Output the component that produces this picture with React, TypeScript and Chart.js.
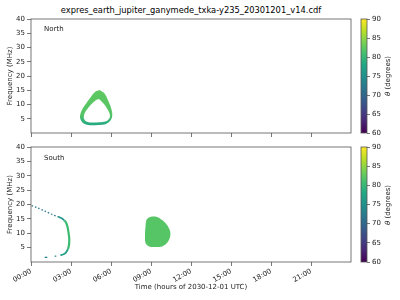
import React, { useEffect, useRef } from 'react';
import { Chart, registerables } from 'chart.js';
Chart.register(...registerables);

const FONT = "'DejaVu Sans', sans-serif";

// ---- axis ticks ----
const hourTicks = [0, 3, 6, 9, 12, 15, 18, 21];
const hourLabels = ['00:00', '03:00', '06:00', '09:00', '12:00', '15:00', '18:00', '21:00'];
const freqTicks = [5, 10, 15, 20, 25, 30, 35, 40];
const thetaTicks = [60, 65, 70, 75, 80, 85, 90];
const viridisStops = ['#440154', '#482475', '#414487', '#355f8d', '#2a788e', '#21918c', '#22a884', '#44bf70', '#7ad151', '#bddf26', '#fde725'];

// ---- North hemisphere: (hour, MHz) ----
const northRingOuter = [
  { x: 5.15, y: 15.1 }, { x: 5.48, y: 14.0 }, { x: 5.7, y: 12.3 }, { x: 5.93, y: 9.8 },
  { x: 6.08, y: 7.4 }, { x: 6.08, y: 5.6 }, { x: 5.93, y: 4.2 }, { x: 5.63, y: 3.2 },
  { x: 5.03, y: 2.8 }, { x: 4.28, y: 2.8 }, { x: 3.9, y: 3.5 }, { x: 3.68, y: 5.3 },
  { x: 3.75, y: 7.4 }, { x: 4.05, y: 9.8 }, { x: 4.43, y: 12.3 }, { x: 4.8, y: 14.4 },
  { x: 5.15, y: 15.1 },
];
const northRingInner = [
  { x: 5.1, y: 11.9 }, { x: 5.42, y: 10.4 }, { x: 5.68, y: 8.8 }, { x: 5.88, y: 7.0 },
  { x: 5.92, y: 5.6 }, { x: 5.76, y: 4.5 }, { x: 5.36, y: 3.85 }, { x: 4.55, y: 3.7 },
  { x: 4.12, y: 4.15 }, { x: 3.96, y: 5.3 }, { x: 4.03, y: 7.0 }, { x: 4.28, y: 8.8 },
  { x: 4.6, y: 10.4 }, { x: 4.86, y: 11.5 }, { x: 5.1, y: 11.9 },
];
const northThetaTop = 82.5;
const northThetaBottom = 78;

// ---- South hemisphere ----
const southBlob = [
  { x: 8.78, y: 15.3 }, { x: 9.08, y: 15.8 }, { x: 9.45, y: 15.65 }, { x: 9.83, y: 14.6 },
  { x: 10.2, y: 12.9 }, { x: 10.43, y: 10.8 }, { x: 10.43, y: 8.7 }, { x: 10.2, y: 6.6 },
  { x: 9.83, y: 5.4 }, { x: 9.3, y: 5.2 }, { x: 8.85, y: 5.4 }, { x: 8.59, y: 6.6 },
  { x: 8.55, y: 9.4 }, { x: 8.59, y: 12.5 }, { x: 8.66, y: 14.6 }, { x: 8.78, y: 15.3 },
];
const southBlobTheta = 82;
const southDotted = [
  { x: 0.05, y: 19.6 }, { x: 0.5, y: 18.8 }, { x: 1.05, y: 17.7 }, { x: 1.6, y: 16.5 }, { x: 2.0, y: 15.8 },
];
const southDottedTheta = 72;
const southUpper = [
  { x: 2.0, y: 15.8 }, { x: 2.3, y: 15.2 }, { x: 2.5, y: 14.5 },
];
const southUpperTheta = 75.5;
const southArc = [
  { x: 2.5, y: 14.5 }, { x: 2.65, y: 13.5 }, { x: 2.75, y: 12.0 }, { x: 2.82, y: 10.0 },
  { x: 2.87, y: 8.0 }, { x: 2.85, y: 6.0 }, { x: 2.78, y: 4.5 },
];
const southArcTheta = 80.5;
const southLower = [
  { x: 2.78, y: 4.5 }, { x: 2.6, y: 3.2 }, { x: 2.4, y: 2.6 }, { x: 2.2, y: 2.35 },
];
const southLowerTheta = 77;
const southDashA = [{ x: 1.78, y: 2.0 }, { x: 1.9, y: 2.05 }];
const southDashB = [{ x: 1.03, y: 1.62 }, { x: 1.22, y: 1.62 }];
const southDashTheta = 74;

function viridis(theta: number): string {
  const t = Math.max(0, Math.min(1, (theta - 60) / 30)) * 10;
  const i = Math.min(9, Math.floor(t));
  const f = t - i;
  const a = viridisStops[i], b = viridisStops[i + 1];
  const p = (s: string, k: number) => parseInt(s.slice(1 + 2 * k, 3 + 2 * k), 16);
  const c = [0, 1, 2].map((k) => Math.round(p(a, k) + (p(b, k) - p(a, k)) * f));
  return `rgb(${c[0]},${c[1]},${c[2]})`;
}

const framePlugin = {
  id: 'frame',
  afterDatasetsDraw(chart: any) {
    const { ctx, chartArea: a } = chart;
    ctx.save();
    ctx.strokeStyle = '#555';
    ctx.lineWidth = 0.8;
    ctx.strokeRect(a.left, a.top, a.right - a.left, a.bottom - a.top);
    ctx.restore();
  },
};

const tickFont = { family: FONT, size: 7 };

function shapeSet(data: any[], color: any, order: number) {
  return {
    data, showLine: true, fill: 'shape', backgroundColor: color, borderColor: 'rgba(0,0,0,0)',
    borderWidth: 0, pointRadius: 0, order, tension: 0.3,
  };
}
function lineSet(data: any[], color: string, width: number, order: number, dash: number[] = []) {
  return {
    data, showLine: true, fill: false, borderColor: color, borderWidth: width, borderDash: dash,
    pointRadius: 0, order, tension: 0.3,
  };
}

function panelConfig(datasets: any[], bottom: boolean, padTop: number, xHeight: number) {
  return {
    type: 'scatter',
    data: { datasets },
    plugins: [framePlugin],
    options: {
      animation: false,
      responsive: false,
      layout: { autoPadding: false, padding: { top: padTop, left: 0, right: 5, bottom: 0 } },
      plugins: { legend: { display: false }, tooltip: { enabled: false } },
      scales: {
        x: {
          type: 'linear', min: 0, max: 24,
          border: { display: false },
          grid: { drawOnChartArea: false, drawTicks: true, tickLength: 4, color: '#555', lineWidth: 0.8 },
          afterBuildTicks: (s: any) => { s.ticks = hourTicks.map((v) => ({ value: v })); },
          afterFit: (s: any) => { s.height = xHeight; },
          ticks: {
            autoSkip: false, minRotation: 30, maxRotation: 30, padding: 1, font: tickFont, color: '#222',
            callback: (v: number) => (bottom ? hourLabels[hourTicks.indexOf(v)] : ''),
          },
          title: {
            display: bottom, text: 'Time (hours of 2030-12-01 UTC)', font: tickFont, color: '#222',
            padding: { top: 0, bottom: 9 },
          },
        },
        y: {
          type: 'linear', min: 0, max: 40,
          border: { display: false },
          grid: { drawOnChartArea: false, drawTicks: true, tickLength: 4, color: '#555', lineWidth: 0.8 },
          afterBuildTicks: (s: any) => { s.ticks = freqTicks.map((v) => ({ value: v })); },
          afterFit: (s: any) => { s.width = 31; },
          ticks: { padding: 2, font: tickFont, color: '#222' },
          title: { display: true, text: 'Frequency (MHz)', font: tickFont, color: '#222', padding: { top: 6, bottom: 0 } },
        },
      },
    },
  };
}

function colorbarConfig(padTop: number, padBottom: number) {
  return {
    type: 'bar',
    data: {
      labels: [''],
      datasets: [{
        data: [[60, 90]], borderWidth: 0, barPercentage: 1, categoryPercentage: 1,
        backgroundColor: (c: any) => {
          const a = c.chart.chartArea;
          if (!a || !isFinite(a.top) || !isFinite(a.bottom) || a.bottom === a.top) return viridis(75);
          const g = c.chart.ctx.createLinearGradient(0, a.bottom, 0, a.top);
          viridisStops.forEach((s, i) => g.addColorStop(i / 10, s));
          return g;
        },
      }],
    },
    plugins: [framePlugin],
    options: {
      animation: false,
      responsive: false,
      layout: { autoPadding: false, padding: { top: padTop, left: 5, right: 0, bottom: padBottom } },
      plugins: { legend: { display: false }, tooltip: { enabled: false } },
      scales: {
        x: { display: false },
        y: {
          position: 'right', min: 60, max: 90,
          border: { display: false },
          grid: { drawOnChartArea: false, drawTicks: true, tickLength: 3, color: '#555', lineWidth: 0.8 },
          afterBuildTicks: (s: any) => { s.ticks = thetaTicks.map((v) => ({ value: v })); },
          afterFit: (s: any) => { s.width = 33; },
          ticks: { padding: 2, font: tickFont, color: '#222' },
        },
      },
    },
  };
}

function ChartBox(props: { left: number; top: number; width: number; height: number; make: () => any }) {
  const ref = useRef<HTMLCanvasElement>(null);
  useEffect(() => {
    const chart = new Chart(ref.current as HTMLCanvasElement, props.make());
    return () => chart.destroy();
  }, []);
  return (
    <canvas ref={ref} width={props.width} height={props.height}
      style={{ position: 'absolute', left: props.left, top: props.top, width: props.width, height: props.height }} />
  );
}

function ringGradient(c: any) {
  const ys = c.chart.scales && c.chart.scales.y;
  if (!ys) return viridis(northThetaTop);
  const y0 = ys.getPixelForValue(15);
  const y1 = ys.getPixelForValue(2.8);
  if (!isFinite(y0) || !isFinite(y1) || y0 === y1) return viridis(northThetaTop);
  const g = c.chart.ctx.createLinearGradient(0, y0, 0, y1);
  g.addColorStop(0, viridis(northThetaTop));
  g.addColorStop(0.7, viridis(northThetaTop - 0.5));
  g.addColorStop(1, viridis(northThetaBottom));
  return g;
}

const textStyle: React.CSSProperties = {
  position: 'absolute', fontFamily: FONT, fontSize: 7, lineHeight: '7px', color: '#222', whiteSpace: 'nowrap',
};

export default function App() {
  const north = () => panelConfig([
    shapeSet(northRingInner, '#ffffff', 1),
    shapeSet(northRingOuter, ringGradient, 2),
  ], false, 19, 7);
  const south = () => panelConfig([
    shapeSet(southBlob, viridis(southBlobTheta), 1),
    lineSet(southDotted, viridis(southDottedTheta), 1.3, 2, [1.5, 2]),
    lineSet(southUpper, viridis(southUpperTheta), 1.6, 2),
    lineSet(southArc, viridis(southArcTheta), 2.2, 2),
    lineSet(southLower, viridis(southLowerTheta), 1.8, 2),
    lineSet(southDashA, viridis(southDashTheta), 1.3, 2),
    lineSet(southDashB, viridis(southDashTheta - 1), 1.3, 2),
  ], true, 7, 38);
  return (
    <div style={{ position: 'fixed', left: 0, top: 0, width: 400, height: 300, background: '#fff', overflow: 'hidden' }}>
      <div style={{ ...textStyle, fontSize: 8.3, lineHeight: '9px', left: 191, top: 6, transform: 'translateX(-50%)', color: '#000' }}>
        expres_earth_jupiter_ganymede_txka-y235_20301201_v14.cdf
      </div>
      <ChartBox left={0} top={0} width={356} height={140} make={north} />
      <ChartBox left={0} top={140} width={356} height={160} make={south} />
      <ChartBox left={356} top={0} width={44} height={140} make={() => colorbarConfig(19, 7)} />
      <ChartBox left={356} top={140} width={44} height={160} make={() => colorbarConfig(7, 38)} />
      <div style={{ ...textStyle, left: 44, top: 25.5 }}>North</div>
      <div style={{ ...textStyle, left: 44, top: 154.5 }}>South</div>
      <div style={{ ...textStyle, left: 388, top: 76, transform: 'translate(-50%,-50%) rotate(-90deg)' }}>
        <i>θ</i> (degrees)
      </div>
      <div style={{ ...textStyle, left: 388, top: 204.5, transform: 'translate(-50%,-50%) rotate(-90deg)' }}>
        <i>θ</i> (degrees)
      </div>
    </div>
  );
}
